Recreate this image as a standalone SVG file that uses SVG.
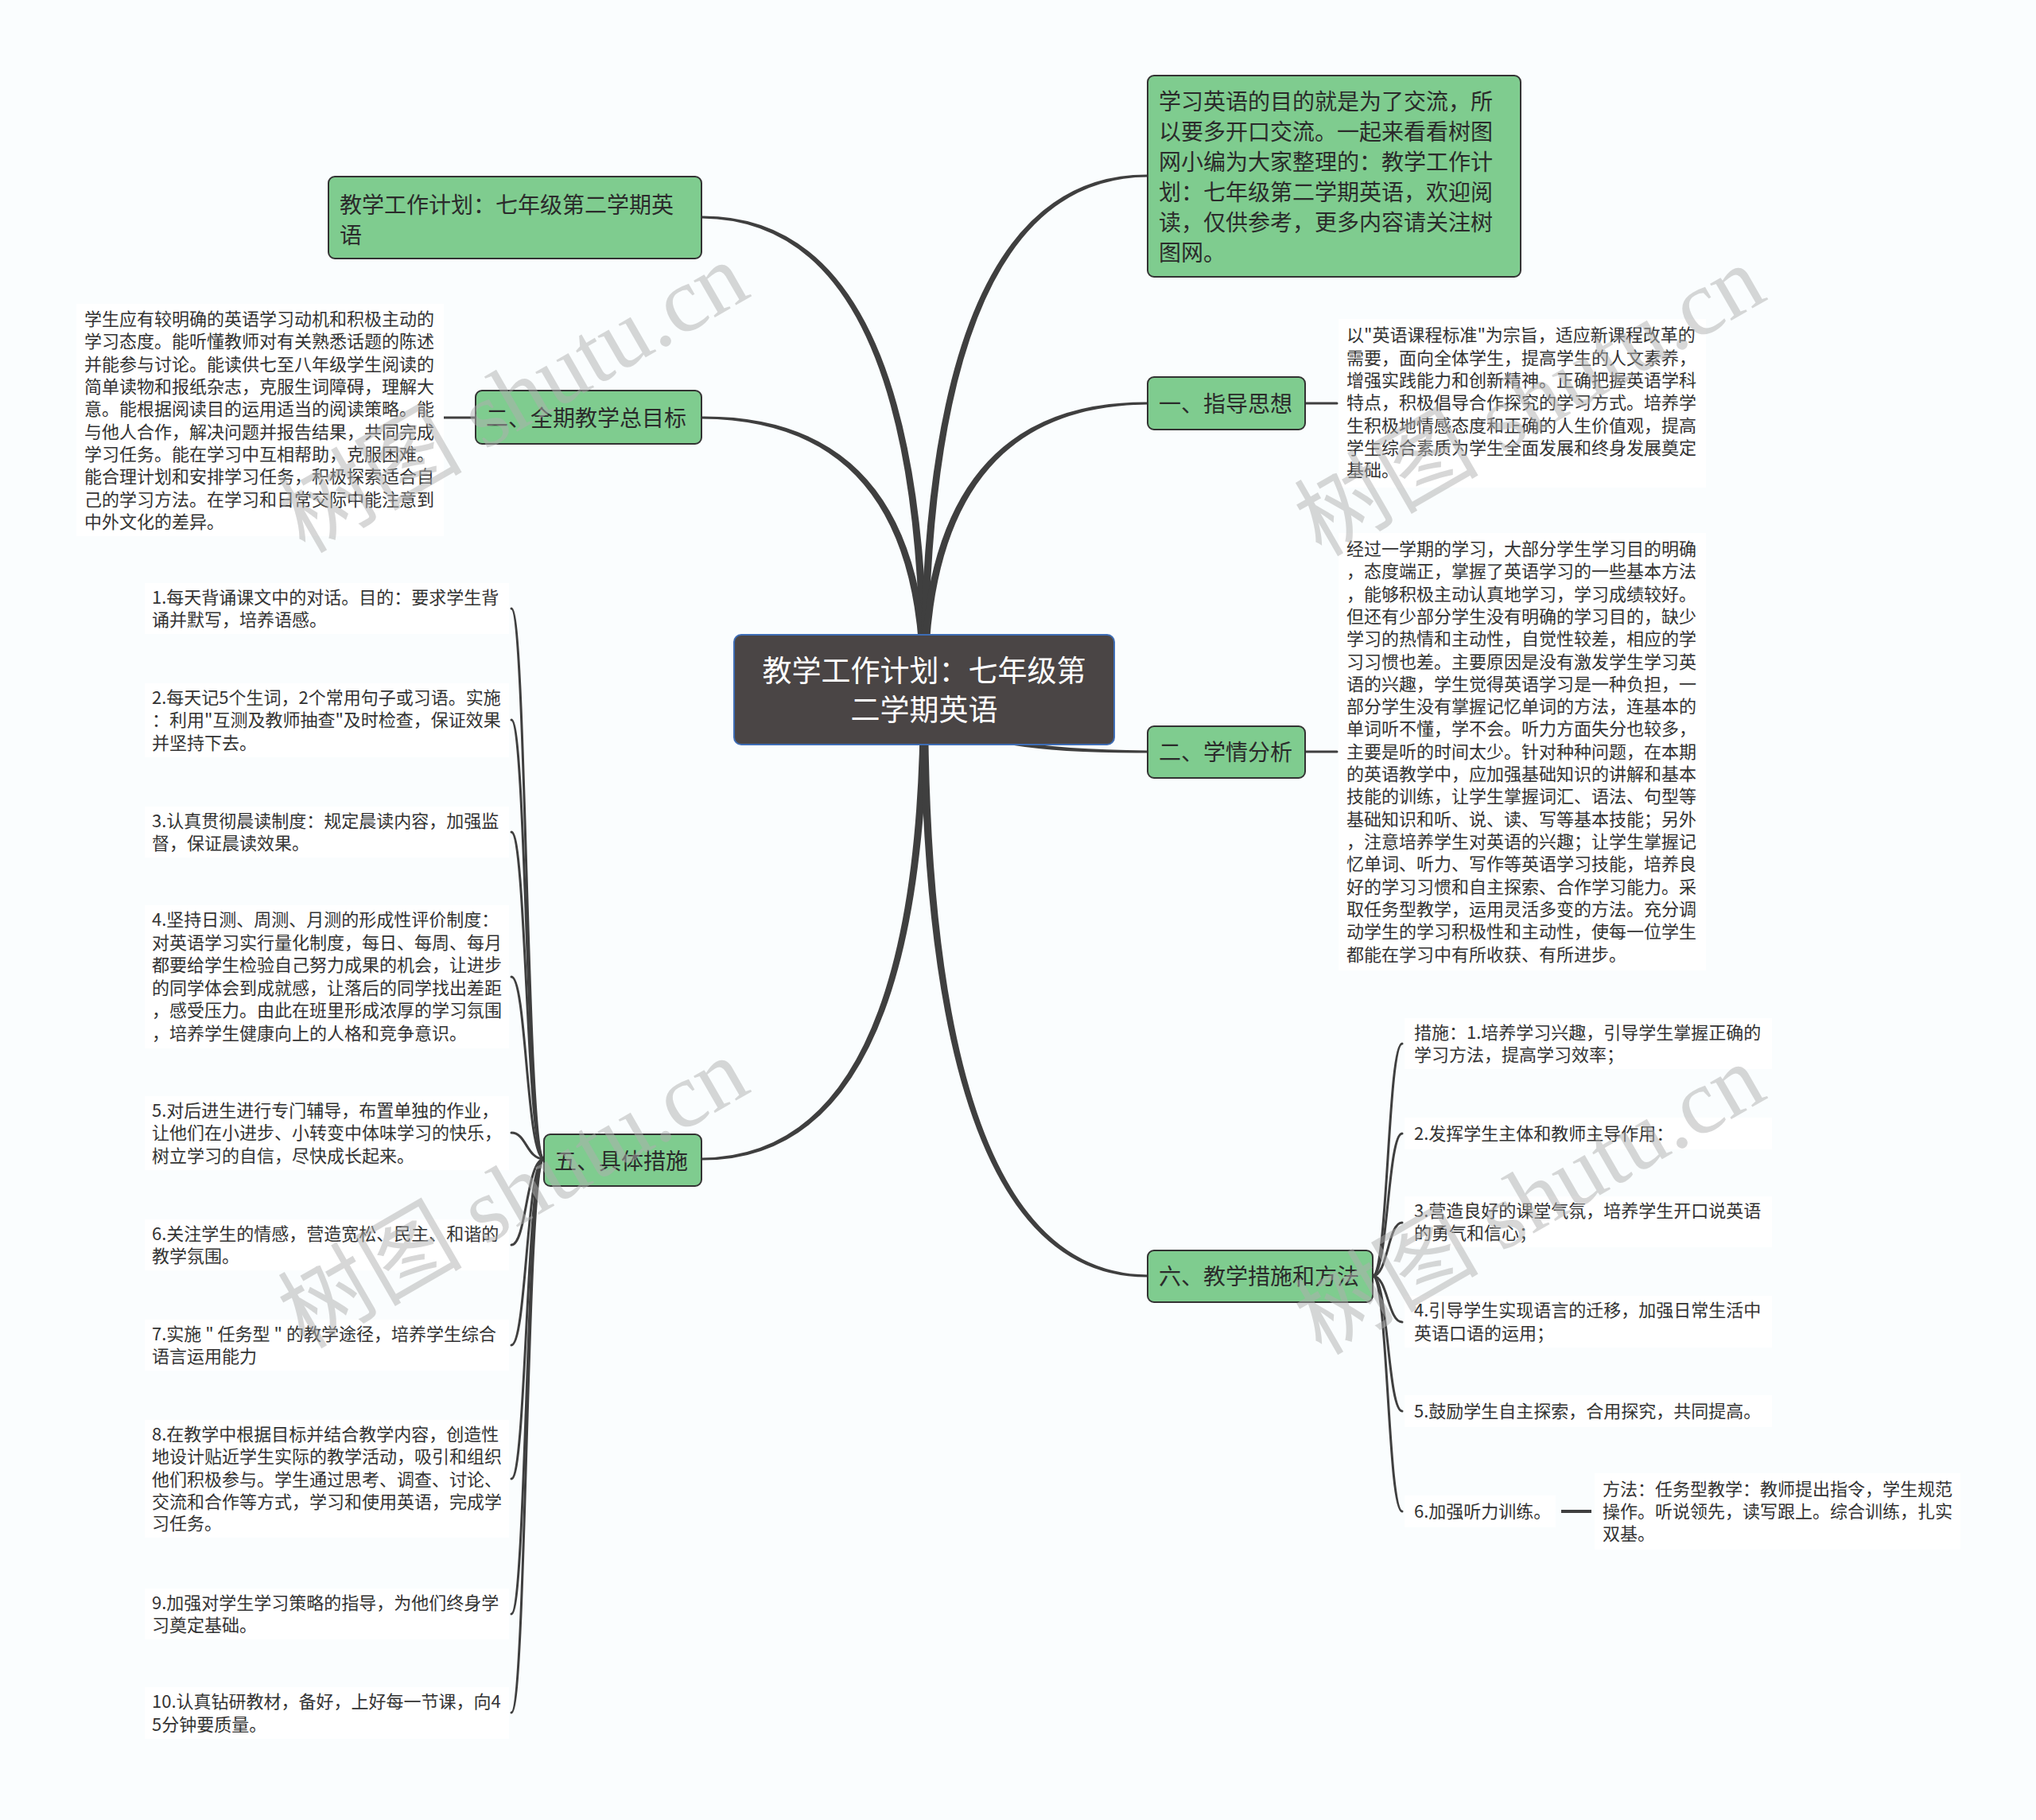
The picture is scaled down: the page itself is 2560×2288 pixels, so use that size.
<svg xmlns="http://www.w3.org/2000/svg" width="2560" height="2288" viewBox="0 0 2560 2288">
<style>
.bg{fill:#fafdfe}
.box{fill:#ffffff}
.node rect{fill:#7fcc8f;stroke:#333333;stroke-width:2}
.root rect{fill:#4a4545;stroke:#3e6db5;stroke-width:2}
.nt{font-family:"Noto Sans CJK SC","Noto Sans",sans-serif;font-size:28px;fill:#2b2b2b}
.rt{font-family:"Noto Sans CJK SC","Noto Sans",sans-serif;font-size:37px;fill:#ffffff;text-anchor:middle}
.tx{font-family:"Noto Sans CJK SC","Noto Sans",sans-serif;font-size:22px;fill:#333333}
.br{fill:#3f3f3f}
.ln{fill:none;stroke:#3f3f3f;stroke-width:3;stroke-linecap:round}
.ln4{fill:none;stroke:#3f3f3f;stroke-width:4}
.wm{font-family:"Liberation Serif","Noto Sans CJK SC",serif;font-size:116px;fill:#b0b0b0;opacity:0.5;text-anchor:middle}
</style>
<rect class="bg" x="0" y="0" width="2560" height="2288"/>

<g id="connectors">
<path class="br" d="M1167,867 Q1165.5,269.5 882,271.5 L882,274.5 Q1158.5,276.5 1157,867 Z"/>
<path class="br" d="M1167,867 Q1165.5,521.5 882,523.5 L882,526.5 Q1158.5,528.5 1157,867 Z"/>
<path class="br" d="M1157,867 Q1158.5,217.5 1443,219.5 L1443,222.5 Q1165.5,224.5 1167,867 Z"/>
<path class="br" d="M1157,867 Q1158.5,503.5 1443,505.5 L1443,508.5 Q1165.5,510.5 1167,867 Z"/>
<path class="br" d="M1157,867 Q1158.5,948.5 1443,946.5 L1443,943.5 Q1165.5,941.5 1167,867 Z"/>
<path class="br" d="M1167,867 Q1165.5,1460.5 882,1458.5 L882,1455.5 Q1158.5,1453.5 1157,867 Z"/>
<path class="br" d="M1157,867 Q1158.5,1607.5 1443,1605.5 L1443,1602.5 Q1165.5,1600.5 1167,867 Z"/>
<path class="ln" d="M598,525 L558,525"/>
<path class="ln" d="M1641,507 L1681,507"/>
<path class="ln" d="M1641,945 L1681,945"/>
<path class="ln" d="M684,1457 C662,1457 662,765 643,765"/>
<path class="ln" d="M684,1457 C662,1457 662,905 643,905"/>
<path class="ln" d="M684,1457 C662,1457 662,1046 643,1046"/>
<path class="ln" d="M684,1457 C662,1457 662,1228 643,1228"/>
<path class="ln" d="M684,1457 C662,1457 662,1424 643,1424"/>
<path class="ln" d="M684,1457 C662,1457 662,1565 643,1565"/>
<path class="ln" d="M684,1457 C662,1457 662,1691 643,1691"/>
<path class="ln" d="M684,1457 C662,1457 662,1859 643,1859"/>
<path class="ln" d="M684,1457 C662,1457 662,2029 643,2029"/>
<path class="ln" d="M684,1457 C662,1457 662,2153 643,2153"/>
<path class="ln" d="M1726,1604 C1745,1604 1745,1312 1763,1312"/>
<path class="ln" d="M1726,1604 C1745,1604 1745,1425 1763,1425"/>
<path class="ln" d="M1726,1604 C1745,1604 1745,1537 1763,1537"/>
<path class="ln" d="M1726,1604 C1745,1604 1745,1662 1763,1662"/>
<path class="ln" d="M1726,1604 C1745,1604 1745,1774 1763,1774"/>
<path class="ln" d="M1726,1604 C1745,1604 1745,1900 1763,1900"/>
<path class="ln4" d="M1963,1900 L2001,1900"/>
</g>

<g id="root" class="root">
<rect x="923" y="798" width="478" height="138" rx="9"/>
<text class="rt" x="1162" y="857">教学工作计划：七年级第</text>
<text class="rt" x="1162" y="906">二学期英语</text>
</g>

<g id="n-title" class="node">
<rect x="413" y="222" width="469" height="103" rx="8"/>
<text class="nt" x="427" y="268">教学工作计划：七年级第二学期英</text>
<text class="nt" x="427" y="306">语</text>
</g>

<g id="n-intro" class="node">
<rect x="1443" y="95" width="469" height="253" rx="8"/>
<text class="nt" x="1457" y="138">学习英语的目的就是为了交流，所</text>
<text class="nt" x="1457" y="176">以要多开口交流。一起来看看树图</text>
<text class="nt" x="1457" y="214">网小编为大家整理的：教学工作计</text>
<text class="nt" x="1457" y="252">划：七年级第二学期英语，欢迎阅</text>
<text class="nt" x="1457" y="290">读，仅供参考，更多内容请关注树</text>
<text class="nt" x="1457" y="328">图网。</text>
</g>

<g id="n-goal" class="node">
<rect x="598" y="491" width="284" height="67" rx="8"/>
<text class="nt" x="611" y="536">二、全期教学总目标</text>
</g>
<g id="t-goal">
<rect class="box" x="96" y="382" width="462" height="292"/>
<text class="tx" x="106" y="409">学生应有较明确的英语学习动机和积极主动的</text>
<text class="tx" x="106" y="437">学习态度。能听懂教师对有关熟悉话题的陈述</text>
<text class="tx" x="106" y="466">并能参与讨论。能读供七至八年级学生阅读的</text>
<text class="tx" x="106" y="494">简单读物和报纸杂志，克服生词障碍，理解大</text>
<text class="tx" x="106" y="522">意。能根据阅读目的运用适当的阅读策略。能</text>
<text class="tx" x="106" y="551">与他人合作，解决问题并报告结果，共同完成</text>
<text class="tx" x="106" y="579">学习任务。能在学习中互相帮助，克服困难。</text>
<text class="tx" x="106" y="607">能合理计划和安排学习任务，积极探索适合自</text>
<text class="tx" x="106" y="636">己的学习方法。在学习和日常交际中能注意到</text>
<text class="tx" x="106" y="664">中外文化的差异。</text>
</g>

<g id="n-guide" class="node">
<rect x="1443" y="474" width="198" height="66" rx="8"/>
<text class="nt" x="1457" y="518">一、指导思想</text>
</g>
<g id="t-guide">
<rect class="box" x="1683" y="401" width="462" height="212"/>
<text class="tx" x="1693" y="429">以"英语课程标准"为宗旨，适应新课程改革的</text>
<text class="tx" x="1693" y="458">需要，面向全体学生，提高学生的人文素养，</text>
<text class="tx" x="1693" y="486">增强实践能力和创新精神。正确把握英语学科</text>
<text class="tx" x="1693" y="514">特点，积极倡导合作探究的学习方式。培养学</text>
<text class="tx" x="1693" y="543">生积极地情感态度和正确的人生价值观，提高</text>
<text class="tx" x="1693" y="571">学生综合素质为学生全面发展和终身发展奠定</text>
<text class="tx" x="1693" y="599">基础。</text>
</g>

<g id="n-analysis" class="node">
<rect x="1443" y="913" width="198" height="65" rx="8"/>
<text class="nt" x="1457" y="956">二、学情分析</text>
</g>
<g id="t-analysis">
<rect class="box" x="1683" y="670" width="462" height="550"/>
<text class="tx" x="1693" y="698">经过一学期的学习，大部分学生学习目的明确</text>
<text class="tx" x="1693" y="726">，态度端正，掌握了英语学习的一些基本方法</text>
<text class="tx" x="1693" y="755">，能够积极主动认真地学习，学习成绩较好。</text>
<text class="tx" x="1693" y="783">但还有少部分学生没有明确的学习目的，缺少</text>
<text class="tx" x="1693" y="811">学习的热情和主动性，自觉性较差，相应的学</text>
<text class="tx" x="1693" y="840">习习惯也差。主要原因是没有激发学生学习英</text>
<text class="tx" x="1693" y="868">语的兴趣，学生觉得英语学习是一种负担，一</text>
<text class="tx" x="1693" y="896">部分学生没有掌握记忆单词的方法，连基本的</text>
<text class="tx" x="1693" y="924">单词听不懂，学不会。听力方面失分也较多，</text>
<text class="tx" x="1693" y="953">主要是听的时间太少。针对种种问题，在本期</text>
<text class="tx" x="1693" y="981">的英语教学中，应加强基础知识的讲解和基本</text>
<text class="tx" x="1693" y="1009">技能的训练，让学生掌握词汇、语法、句型等</text>
<text class="tx" x="1693" y="1038">基础知识和听、说、读、写等基本技能；另外</text>
<text class="tx" x="1693" y="1066">，注意培养学生对英语的兴趣；让学生掌握记</text>
<text class="tx" x="1693" y="1094">忆单词、听力、写作等英语学习技能，培养良</text>
<text class="tx" x="1693" y="1123">好的学习习惯和自主探索、合作学习能力。采</text>
<text class="tx" x="1693" y="1151">取任务型教学，运用灵活多变的方法。充分调</text>
<text class="tx" x="1693" y="1179">动学生的学习积极性和主动性，使每一位学生</text>
<text class="tx" x="1693" y="1208">都能在学习中有所收获、有所进步。</text>
</g>

<g id="n-measures" class="node">
<rect x="684" y="1426" width="198" height="65" rx="8"/>
<text class="nt" x="697" y="1470">五、具体措施</text>
</g>
<g id="m1">
<rect class="box" x="182" y="733" width="458" height="64"/>
<text class="tx" x="191" y="759">1.每天背诵课文中的对话。目的：要求学生背</text>
<text class="tx" x="191" y="787">诵并默写，培养语感。</text>
</g>
<g id="m2">
<rect class="box" x="182" y="859" width="458" height="93"/>
<text class="tx" x="191" y="885">2.每天记5个生词，2个常用句子或习语。实施</text>
<text class="tx" x="191" y="913">：利用"互测及教师抽查"及时检查，保证效果</text>
<text class="tx" x="191" y="942">并坚持下去。</text>
</g>
<g id="m3">
<rect class="box" x="182" y="1014" width="458" height="64"/>
<text class="tx" x="191" y="1040">3.认真贯彻晨读制度：规定晨读内容，加强监</text>
<text class="tx" x="191" y="1068">督，保证晨读效果。</text>
</g>
<g id="m4">
<rect class="box" x="182" y="1138" width="458" height="180"/>
<text class="tx" x="191" y="1164">4.坚持日测、周测、月测的形成性评价制度：</text>
<text class="tx" x="191" y="1193">对英语学习实行量化制度，每日、每周、每月</text>
<text class="tx" x="191" y="1221">都要给学生检验自己努力成果的机会，让进步</text>
<text class="tx" x="191" y="1250">的同学体会到成就感，让落后的同学找出差距</text>
<text class="tx" x="191" y="1278">，感受压力。由此在班里形成浓厚的学习氛围</text>
<text class="tx" x="191" y="1307">，培养学生健康向上的人格和竞争意识。</text>
</g>
<g id="m5">
<rect class="box" x="182" y="1378" width="458" height="93"/>
<text class="tx" x="191" y="1404">5.对后进生进行专门辅导，布置单独的作业，</text>
<text class="tx" x="191" y="1432">让他们在小进步、小转变中体味学习的快乐，</text>
<text class="tx" x="191" y="1461">树立学习的自信，尽快成长起来。</text>
</g>
<g id="m6">
<rect class="box" x="182" y="1533" width="458" height="64"/>
<text class="tx" x="191" y="1559">6.关注学生的情感，营造宽松、民主、和谐的</text>
<text class="tx" x="191" y="1587">教学氛围。</text>
</g>
<g id="m7">
<rect class="box" x="182" y="1659" width="458" height="64"/>
<text class="tx" x="191" y="1685">7.实施 " 任务型 " 的教学途径，培养学生综合</text>
<text class="tx" x="191" y="1713">语言运用能力</text>
</g>
<g id="m8">
<rect class="box" x="182" y="1785" width="458" height="148"/>
<text class="tx" x="191" y="1811">8.在教学中根据目标并结合教学内容，创造性</text>
<text class="tx" x="191" y="1839">地设计贴近学生实际的教学活动，吸引和组织</text>
<text class="tx" x="191" y="1868">他们积极参与。学生通过思考、调查、讨论、</text>
<text class="tx" x="191" y="1896">交流和合作等方式，学习和使用英语，完成学</text>
<text class="tx" x="191" y="1923">习任务。</text>
</g>
<g id="m9">
<rect class="box" x="182" y="1997" width="458" height="64"/>
<text class="tx" x="191" y="2023">9.加强对学生学习策略的指导，为他们终身学</text>
<text class="tx" x="191" y="2051">习奠定基础。</text>
</g>
<g id="m10">
<rect class="box" x="182" y="2121" width="458" height="65"/>
<text class="tx" x="191" y="2147">10.认真钻研教材，备好，上好每一节课，向4</text>
<text class="tx" x="191" y="2176">5分钟要质量。</text>
</g>

<g id="n-methods" class="node">
<rect x="1443" y="1572" width="283" height="65" rx="8"/>
<text class="nt" x="1457" y="1615">六、教学措施和方法</text>
</g>
<g id="s1">
<rect class="box" x="1766" y="1280" width="462" height="64"/>
<text class="tx" x="1778" y="1306">措施：1.培养学习兴趣，引导学生掌握正确的</text>
<text class="tx" x="1778" y="1334">学习方法，提高学习效率；</text>
</g>
<g id="s2">
<rect class="box" x="1766" y="1405" width="462" height="40"/>
<text class="tx" x="1778" y="1433">2.发挥学生主体和教师主导作用：</text>
</g>
<g id="s3">
<rect class="box" x="1766" y="1504" width="462" height="64"/>
<text class="tx" x="1778" y="1530">3.营造良好的课堂气氛，培养学生开口说英语</text>
<text class="tx" x="1778" y="1558">的勇气和信心；</text>
</g>
<g id="s4">
<rect class="box" x="1766" y="1629" width="462" height="65"/>
<text class="tx" x="1778" y="1655">4.引导学生实现语言的迁移，加强日常生活中</text>
<text class="tx" x="1778" y="1684">英语口语的运用；</text>
</g>
<g id="s5">
<rect class="box" x="1766" y="1754" width="462" height="40"/>
<text class="tx" x="1778" y="1782">5.鼓励学生自主探索，合用探究，共同提高。</text>
</g>
<g id="s6">
<rect class="box" x="1766" y="1880" width="190" height="40"/>
<text class="tx" x="1778" y="1908">6.加强听力训练。</text>
</g>
<g id="s6a">
<rect class="box" x="2005" y="1852" width="460" height="96"/>
<text class="tx" x="2015" y="1880">方法：任务型教学：教师提出指令，学生规范</text>
<text class="tx" x="2015" y="1908">操作。听说领先，读写跟上。综合训练，扎实</text>
<text class="tx" x="2015" y="1936">双基。</text>
</g>

<g id="watermarks">
<text class="wm" transform="translate(665,534) rotate(-30)">树图 shutu.cn</text>
<text class="wm" transform="translate(1943,538) rotate(-30)">树图 shutu.cn</text>
<text class="wm" transform="translate(665,1534) rotate(-30)">树图 shutu.cn</text>
<text class="wm" transform="translate(1943,1542) rotate(-30)">树图 shutu.cn</text>
</g>
</svg>
